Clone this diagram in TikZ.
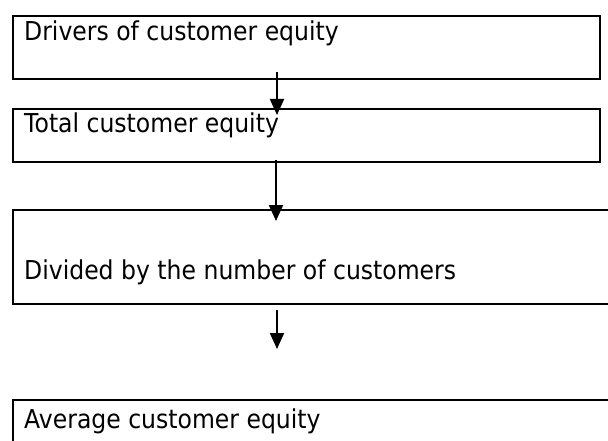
\documentclass[tikz,border=0pt]{standalone}
\usepackage{fontspec}
\setmainfont{DejaVu Sans}[FakeStretch=0.905]
\usepackage{tikz}
\usetikzlibrary{arrows.meta,positioning}

\begin{document}
\begin{tikzpicture}[x=1pt,y=1pt,
            box/.style={draw,line width=2.4pt,anchor=north west,inner sep=0pt,minimum width=587pt},
            txt/.style={anchor=base west,inner sep=0pt,font=\fontsize{26}{30}\selectfont},
            flow/.style={line width=2pt,-{Triangle[width=14pt,length=16pt]}}]
            \useasboundingbox (0,0) rectangle (608,-441);
            \node[box,minimum height=63pt] (Drivers) at (12,-15) {};
            \node[box,minimum height=53pt] (Total) at (12,-108) {};
            \node[box,minimum height=94pt,minimum width=620pt] (Divided) at (12,-209) {};
            \node[box,minimum height=80pt,minimum width=620pt] (Average) at (12,-399) {};
            \node[txt] (DriversT) at ([xshift=12pt,yshift=-26pt]Drivers.north west) {Drivers of customer equity};
            \node[txt] (TotalT) at ([xshift=12pt,yshift=-25pt]Total.north west) {Total customer equity};
            \node[txt] (DividedT) at ([xshift=12pt,yshift=-70pt]Divided.north west) {Divided by the number of customers};
            \node[txt] (AverageT) at ([xshift=12pt,yshift=-29pt]Average.north west) {Average customer equity};
            \draw[flow] ([xshift=265pt,yshift=8pt]Drivers.south west) -- ([xshift=265pt,yshift=-7pt]Total.north west);
            \draw[flow] ([xshift=264pt,yshift=3pt]Total.south west) -- ([xshift=264pt,yshift=-12pt]Divided.north west);
            \draw[flow] ([xshift=265pt,yshift=-5pt]Divided.south west) -- ([xshift=265pt,yshift=50pt]Average.north west);
        \end{tikzpicture}
\end{document}
